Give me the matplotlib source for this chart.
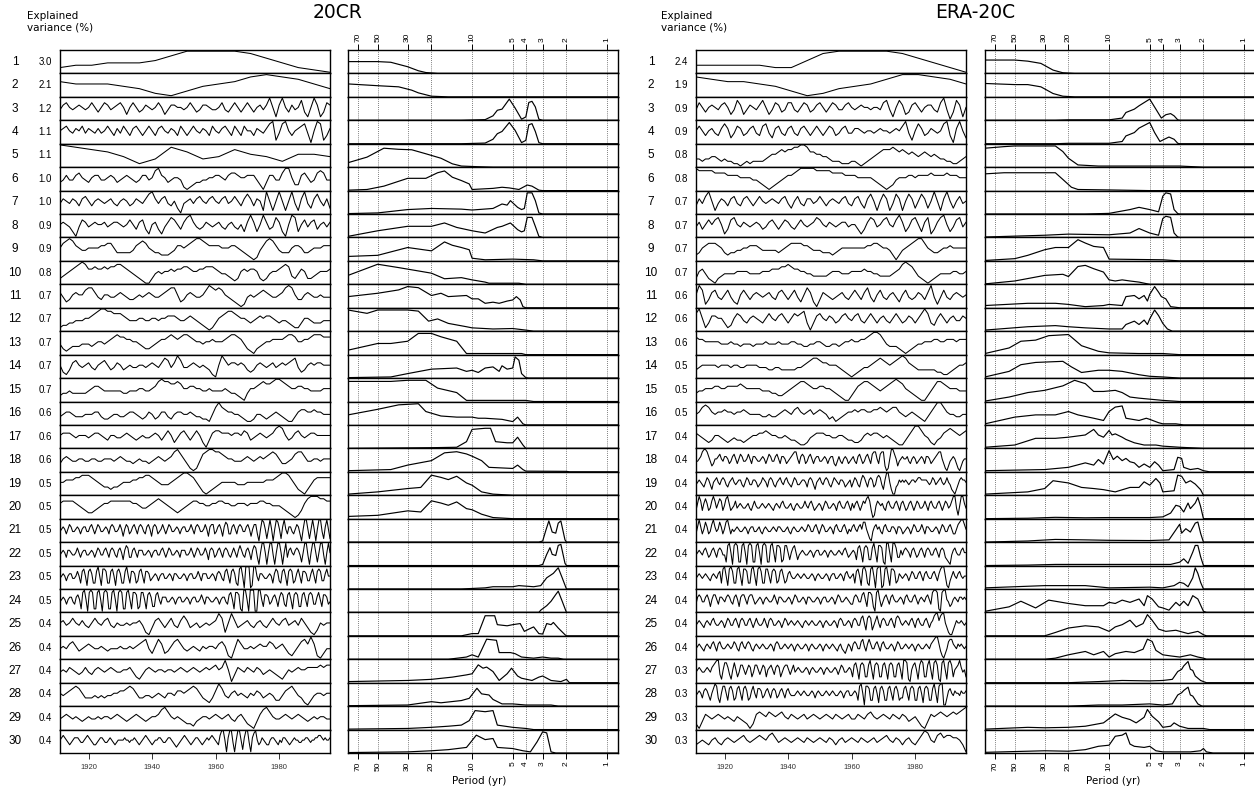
import numpy as np
import matplotlib
matplotlib.use("Agg")
import matplotlib.pyplot as plt
from matplotlib.ticker import NullLocator, FixedLocator

# ---------------- data ----------------
ROW_LABELS = [str(i) for i in range(1, 31)]
VAR_20CR = [3.0, 2.1, 1.2, 1.1, 1.1, 1.0, 1.0, 0.9, 0.9, 0.8, 0.7, 0.7, 0.7, 0.7, 0.7,
            0.6, 0.6, 0.6, 0.5, 0.5, 0.5, 0.5, 0.5, 0.5, 0.4, 0.4, 0.4, 0.4, 0.4, 0.4]
VAR_ERA = [2.4, 1.9, 0.9, 0.9, 0.8, 0.8, 0.7, 0.7, 0.7, 0.7, 0.6, 0.6, 0.6, 0.5, 0.5,
           0.5, 0.4, 0.4, 0.4, 0.4, 0.4, 0.4, 0.4, 0.4, 0.4, 0.4, 0.3, 0.3, 0.3, 0.3]
YEAR_START, YEAR_END = 1911, 1996
YEAR_TICKS = [1920, 1940, 1960, 1980]
PERIOD_TICKS = [70, 50, 30, 20, 10, 5, 4, 3, 2, 1]

# time series (PC) values, digit levels 0..9, evenly spaced over YEAR_START..YEAR_END
TS_20CR = [
    "233444579999864210",
    "655543102456898753",
    "4675456545" "7535764567" "5257534654" "5752466554" "5753466544" "5743575357" "5356469516" "9536458315" "961376",
    "5675465746" "5464575364" "7536753575" "3675465375" "3575465375" "4675375375" "5365468914" "8953567840" "598136",
    "987641386347542554",
    "3464467543" "5664456534" "5654346645" "8965345541" "0123344556" "6546776556" "6642036644" "7995226753" "478744",
    "4654653675" "3565456435" "6534654689" "6467435204" "5646754675" "4674575368" "6365195159" "5159416942" "685362",
    "5654204764" "5655645665" "4575367315" "6314687536" "8964346545" "6435643526" "9625963486" "2059825746" "735646",
    "5789865445" "5556677533" "3334678754" "3322234665" "6789987666" "6555665432" "1014689864" "3335665334" "555666",
    "2345678986" "6766767788" "7654321002" "4545565667" "7655667776" "5443212565" "6652124556" "7873246522" "345556",
    "6423565578" "8643554456" "5433454565" "4456788523" "5654457987" "8754321014" "5456765445" "6898533565" "445444",
    "1223344455" "6789988777" "6544455445" "5455666544" "5654321013" "5678876554" "3456566543" "4432113554" "333444",
    "4212333444" "3455456787" "7665543223" "4566787678" "8765545565" "5567887642" "1023455666" "6788755667" "888777",
    "5213675456" "4356753465" "3454455456" "5468746974" "4565454310" "5975665653" "2356545645" "6567842356" "566555",
    "2334333334" "5665444444" "3344455445" "6898877875" "5665544544" "4454332103" "5567877899" "8765566554" "444555",
    "3455433344" "4553223443" "3455432354" "2355324554" "4543322147" "9765544321" "1244323454" "3211356655" "655444",
    "5666545554" "5665435544" "5654345445" "6535752467" "5357520367" "7666566576" "3456545689" "8534675456" "655555",
    "3565445544" "5544555456" "5443454434" "5654568975" "3101478998" "8765544456" "5456567875" "3345788644" "554555",
    "5566677888" "7654332334" "5556677887" "6544456789" "9875310123" "4555554445" "5555566678" "9986421024" "677777",
    "6777765432" "2345667777" "7776654456" "7876543234" "5677665566" "7766556665" "6667766555" "4321013689" "998877",
    "4565" "35764" "4565" "35664" "4675" "35764" "4565" "36764" "4575" "25763" "4675" "36764" "3675" "26763"
    "4575" "35764" "4565" "35664" "4575" "36764" "4575" "26773" "4675" "26873" "3675" "36764" "4675" "25773"
    "05985" "1595" "05985" "1695" "3664" "35763" "0599" "51595" "0599" "41695" "1",
    "4565" "36654" "4575" "35664" "4565" "35764" "4675" "36764" "3675" "26873" "3675" "36664" "4565" "35664"
    "4675" "35764" "4565" "36664" "4575" "35764" "4575" "26763" "4675" "36764" "3575" "36864" "3675" "26873"
    "0599" "50599" "4059" "95059" "3675" "46764" "1599" "40599" "5159" "94059" "5",
    "4565" "35664" "4575" "2785" "17862" "2795" "18872" "2785" "17862" "2795" "27762" "3785" "27763"
    "4565" "35664" "4565" "36654" "4565" "35664" "4575" "36664" "4565" "36764"
    "3785" "27862" "1895" "09990" "1995" "36654"
    "4565" "26873" "2785" "17872" "3685" "27763" "3685" "27873" "3685" "5",
    "4565" "35664" "3675" "1895" "08981" "1895" "08981" "1895" "08981" "1895" "18871" "2885" "17862" "2785"
    "36664" "4565" "35664" "4565" "35664" "4575" "36654" "4565" "35664"
    "3785" "18871" "0995" "09990" "0995" "27763"
    "4675" "26873" "2785" "17872" "2785" "27873" "3685" "27763" "4",
    "5645754643" "5754674354" "4545564103" "6753574368" "6345345456" "9715963456" "4356435754" "6745647531" "025455",
    "4546753456" "5445434445" "4454567842" "5862357864" "3454354554" "6751048644" "5456557645" "6421357869" "610244",
    "4546543464" "3565456544" "5564213565" "4554554565" "4565456567" "5695036546" "5465345432" "1354565566" "667677",
    "5456787533" "3434344556" "6787533443" "4543554665" "6787532136" "9743564543" "5465345422" "4678643102" "455455",
    "4565454345" "4454554565" "4345654345" "5689754543" "2213455456" "5456435642" "1036897544" "5654565434" "545544",
    "5676543" "4566654" "45676543" "3456654" "456543" "4555565" "5455654" "345676543" "4556654" "45665432"
    "345676" "5434566" "54" "3456567654" "37995" "06994" "05995" "16994" "06895" "3"
    "46543" "3566" "5435" "46654" "3456" "55445" "5665" "4556" "6776" "5" "6556",
]

TS_ERA = [
    "333332258999986420",
    "876654201345799875",
    "4753565467" "5248624654" "6852476347" "7435763467" "5357644675" "4565545547" "8415862367" "5356643794" "038615",
    "5753564368" "6247634674" "3784267436" "7436753575" "3576346744" "6654554565" "5456579415" "8634654589" "306952",
    "3323344323" "2211012122" "2234556767" "7889986655" "4432221112" "2101234567" "7787676565" "4565454332" "211234",
    "9888887777" "6666555544" "3210123456" "6789999988" "8887777666" "6555554321" "0124555665" "6666766667" "666555",
    "3647951465" "3674367535" "7545654674" "2574366457" "5356546743" "6742685158" "6148615862" "5862595169" "525745",
    "4635757851" "3785465456" "5346753576" "4357545687" "5465456645" "5313687457" "8547962478" "5268136895" "247846",
    "2356777653" "2334455666" "5444443456" "7777665444" "3332345555" "5555667765" "5420245678" "9975433455" "655555",
    "2564210234" "4445555444" "4555666778" "7665544333" "3345554445" "5556554433" "3345689875" "3210123444" "455445",
    "5971367435" "7421575356" "5456436753" "5742586203" "6543456435" "7536842574" "3564257434" "6536941474" "356545",
    "7951366553" "1257643565" "4357546753" "5767830367" "5465346754" "6743575356" "4357534653" "5797325753" "564465",
    "7665555544" "4544344434" "4454445444" "5544334455" "4334434556" "5566789986" "4333210123" "4455566556" "665666",
    "3455555455" "5455445555" "4443344333" "3344567887" "6655543210" "1234456787" "6567898654" "3333332211" "234556",
    "3445556655" "6666765555" "5444332234" "5678876556" "6554321002" "4678876545" "6789875432" "1002468876" "555444",
    "4578754556" "5545565444" "4334334565" "4675456456" "5423123455" "6566556676" "5677543454" "3213579975" "443344",
    "6543235543" "2343323455" "6676554454" "3321124566" "6554455433" "2235656654" "5432113579" "9754213467" "876567",
    "4456899864235" "5675" "46653" "4675" "35764" "4575" "36654" "4565" "35764" "4675" "36653" "456"
    "7885" "36763" "4675" "35664" "4565" "35663" "2464" "35653" "4564" "36753" "4675" "3"
    "7885" "37882" "0159" "9752" "456" "5564" "35653" "4565" "36653" "45"
    "6788" "5310" "2456" "5310" "2455",
    "45654" "35764" "25675" "46764" "35675" "45664" "35764" "46653" "45765" "36764" "35675" "46754"
    "35764" "45665" "36764" "25675" "46764" "35765" "46653" "4" "56"
    "35764" "36875" "36763" "47874" "2" "6995" "200" "3" "465"
    "6565" "45665" "6776" "6665" "45764" "5675" "4575" "421" "0246" "7" "665",
    "36973" "6863" "47974" "6873" "58963" "4" "57"
    "45654" "4564" "35754" "4565" "45654" "3565" "46754" "4564" "35654" "4575" "46753" "4565" "35764"
    "4565" "36754" "4675" "36" "46753576" "89730157"
    "6564" "36754" "4675" "36753" "4675" "35764" "4575" "36754" "4675" "35764" "57994159964",
    "36963" "5863" "47964" "5863" "5896" "3" "5"
    "45654" "4565" "35664" "4564" "35654" "4565" "46654" "4564" "35654" "4565" "45764" "4675" "35764"
    "4565" "36754" "4675" "35" "46754675" "88531046"
    "7564" "36754" "4665" "36653" "4565" "35764" "4575" "36654" "4565" "35764" "4675" "3" "35789975",
    "4565" "46753" "4675" "36764" "4"
    "1895" "08981" "1895" "08981" "1895" "08981" "1895" "18871" "2885" "2" "5785" "2"
    "45654" "4565" "35664" "4565" "35654" "4565" "46753" "4" "565"
    "2785" "17872" "2795" "18871" "0995" "19973" "364"
    "6765" "36753" "4675" "36764" "4675" "36763" "2" "10" "46754" "4675" "5",
    "4565" "45654" "3565" "46" "7"
    "2895" "18972" "2895" "18872" "2895" "18972" "2885" "27872" "3785" "2" "36754" "4565"
    "45654" "4565" "35654" "4565" "35664" "4565" "36754" "5" "6"
    "2785" "18972" "1895" "08990" "1895" "18872" "3" "65"
    "4565" "35764" "4675" "36754" "4675" "36899" "5" "10" "3575" "46754" "55",
    "36764" "4675" "25775" "3665" "46764" "3675" "26775" "3" "6775" "3"
    "4565" "35654" "4575" "36654" "4565" "35764" "4565" "36654" "4565" "35664" "4565" "35764" "4" "56543"
    "36764" "4785" "28872" "0895" "2" "4675" "36754" "4565"
    "36754" "4675" "3565" "46753" "8998" "10" "899" "54" "2" "3565" "46" "6565",
    "45654" "3565" "46754" "4565" "35764" "4675" "36764" "4675" "35754" "4575" "36764" "4565" "35" "76"
    "4565" "45654" "3565" "45654" "4565" "35654" "4565" "36" "764" "4565"
    "36764" "4785" "27872" "4685" "36764" "4675" "37875" "4" "565" "4675"
    "36754" "4675" "356" "8996" "8995" "3100" "24655" "6545",
    "45654" "3565" "4675" "36754" "4565" "45764" "3675" "46764" "3565" "45654" "4565" "36764" "45" "65"
    "4565" "35654" "4565" "35654" "4565" "3565" "45654" "3" "5643" "2465"
    "36764" "4785" "36864" "4675" "36754" "4565" "35764" "4" "565" "4565"
    "35654" "4565" "46789" "9631" "0247" "8865" "46" "56545",
    "45654" "4565" "46" "789" "9" "31" "5886" "3" "1585" "24775" "3576" "24775" "3576" "25675" "3676" "2"
    "46775" "357" "45654" "4565" "35654" "4565" "35654" "4565" "35" "7644565"
    "2785" "17872" "2795" "17872" "2785" "17872" "2785" "1"
    "9981" "0" "5785" "17982" "2795" "18971" "0895" "18972" "56" "796452",
    "4565" "36764" "25" "798" "3" "1" "5885" "27862" "3785" "27862" "3685" "37763" "4675" "36763"
    "4675" "36754" "4" "4565" "45654" "4565" "35654" "4565" "45654" "4565" "35" "664" "4565"
    "2895" "08872" "2785" "17862" "2785" "27862" "3"
    "3785" "27872" "2785" "17872" "2795" "18990" "0" "3675" "465" "546556",
    "2036545654" "5435432026" "7657656754" "6545645654" "5654654564" "4654675456" "5465465345" "3103656765" "676789",
    "3454356435" "6545675456" "7657864565" "4565465456" "5465356456" "5465456456" "7546535643" "5798547867" "766530",
]

# spectra: "period:relative power" pairs
SPEC_20CR = [
    "83:.53 50:.53 40:.5 30:.3 25:.12 22:.04 18:0",
    "83:.58 50:.5 35:.45 28:.3 25:.18 20:.03 15:0",
    "83:0 12:0 8:.03 7:.2 6.5:.45 6:.5 5.3:.95 4.8:.55 4.3:.05 4:.15 3.8:.8 3.6:.85 3.4:.6 3.2:.05 3:0",
    "83:0 12:0 8:.03 7:.2 6.5:.45 6:.55 5.3:.95 4.8:.6 4.3:.05 4:.15 3.8:.85 3.6:.9 3.4:.55 3.2:.05 3:0",
    "83:.2 60:.45 45:.85 35:.8 28:.78 22:.6 17:.4 14:.15 12:.05 9:.02 7:0",
    "83:.02 60:.05 45:.2 30:.55 22:.55 18:.8 16:.88 14:.6 12:.45 10.5:.3 10:.05 7:.1 6:.15 5.3:.12 4.5:.05 3.9:.25 3.6:.2 3.2:.02 3:0",
    "83:.02 50:.05 30:.2 20:.25 12:.22 10:.18 7:.25 6:.45 5.5:.4 5.2:.6 4.6:.3 4.3:.2 4.1:.25 3.9:.95 3.6:.95 3.4:.6 3.2:.05 3:0",
    "83:.05 50:.3 30:.5 20:.5 16:.65 13:.45 10:.3 8:.2 6.5:.45 6:.5 5.2:.65 4.6:.35 4.3:.25 4.1:.3 3.9:.9 3.6:.9 3.4:.5 3.2:.05 3:0",
    "83:.2 50:.25 30:.6 20:.45 16:.85 14:.7 12:.6 10.5:.5 10:.12 8:.05 5:.08 3.5:.05 3:0",
    "83:.4 50:.9 35:.75 25:.6 20:.5 16:.25 12:.3 10:.2 8:.1 7.5:.05 4.5:.05 4:0",
    "83:.5 50:.65 35:.8 30:.95 25:.9 20:.55 17:.65 15:.5 11:.55 10:.4 9:.4 8:.2 7:.25 6.3:.2 5.5:.3 5:.35 4.7:.5 4.4:.35 4.2:.05 4:0",
    "83:.95 60:.8 50:.95 30:.95 25:.9 21:.45 18:.55 15:.35 11:.2 10:.15 7:.1 5:.12 4:.05 3.5:0",
    "83:.2 50:.5 40:.5 30:.6 25:.95 20:.95 17:.8 13:.6 11:.05 4.3:.05 4:0",
    "83:.02 40:.05 30:.2 20:.4 13:.45 11:.3 10:.35 9:.25 8:.45 7:.5 6.3:.3 6:.55 5.5:.4 5:.45 4.8:.95 4.5:.8 4.3:.2 4:.02 3.8:0",
    "83:.9 50:.9 40:.9 30:.95 22:.95 18:.6 13:.4 11:.05 4:.05 3.5:0",
    "83:.45 50:.7 35:.9 25:.95 22:.6 17:.4 13:.35 10:.35 9:.3 8:.3 6:.25 5:.15 4.6:.35 4.2:.05 4:0",
    "83:0 30:.02 20:.03 13:.05 11:.3 10:.85 8:.9 7.3:.9 6.7:.3 5.5:.25 5:.25 4.6:.5 4.2:.15 4:0",
    "83:.05 40:.1 30:.3 20:.5 16:.85 13:.9 11:.8 10:.7 8.5:.5 7.5:.2 5:.15 4.6:.3 4.2:.1 4:.03 2:.02 1.9:0",
    "83:.05 50:.15 30:.3 24:.35 20:.9 17:.8 15:.7 13:.85 11:.55 10:.45 8.5:.15 7:.05 5:0",
    "83:.1 50:.15 30:.35 24:.3 20:.8 17:.7 15:.6 13:.75 11:.45 10:.4 8.5:.2 7:.05 5:0",
    "83:0 3.2:0 3:.05 2.85:.5 2.7:.95 2.55:.45 2.4:.4 2.3:.85 2.2:.95 2.05:.1 2:0",
    "83:0 3.2:0 3:.05 2.8:.5 2.65:.8 2.55:.5 2.4:.45 2.3:.9 2.2:.95 2.05:.1 2:0",
    "83:0 12:0 8:.05 7:.1 5:.1 4.5:.15 3.5:.1 3.1:.15 2.8:.5 2.5:.7 2.3:.95 2.15:.5 2:0",
    "83:0 3.2:0 3.1:.1 2.8:.3 2.6:.5 2.4:.8 2.3:.95 2.15:.5 2:0",
    "83:0 12:0 10:.1 9:.1 8:.9 6.8:.9 6.5:.5 5.5:.45 5:.5 4.4:.55 4.1:.2 3.8:.3 3.5:.4 3.2:.1 3:.08 2.8:.55 2.6:.5 2.5:.6 2.3:.35 2.05:.05 2:0",
    "83:0 15:0 11:.1 10:.2 9:.1 8.3:.55 7.8:.9 6.6:.85 6.3:.3 5.2:.3 4.8:.25 4.3:.1 3.5:.05 3:.1 2.6:.05 2.3:.05 2.1:0",
    "83:.05 30:.1 20:.15 14:.25 11:.35 10:.4 9:.8 8.3:.65 7.8:.7 7:.5 6.3:.1 5.5:.4 5.1:.65 4.6:.3 4.3:.2 3.6:.1 3.2:.25 3:.3 2.6:.1 2.2:.05 2:.15 1.9:0",
    "83:.02 30:.05 20:.2 17:.15 12:.25 10.5:.35 9.2:.8 8.5:.55 7.5:.5 7:.3 6:.1 5:.1 4:.05 3:.05 2.6:.05 2.3:0",
    "83:.02 30:.05 20:.1 15:.15 12:.2 10.5:.4 9.5:.85 8:.8 7:.85 6.5:.2 5:.1 4:.05 3.5:0",
    "83:.02 30:.05 20:.1 15:.15 11:.25 10.5:.4 9.3:.8 8:.6 7:.65 6.5:.25 5:.2 4.2:.1 3.7:.05 3.3:.5 3:.95 2.8:.9 2.6:.05 2.4:0",
]

SPEC_ERA = [
    "83:.6 50:.6 40:.55 32:.45 26:.15 22:.03 18:0",
    "83:.6 50:.55 40:.55 32:.45 26:.15 22:.03 18:0",
    "83:0 25:0 20:.02 10:.02 8:.1 7.5:.35 6.5:.5 6:.65 5:.95 4.5:.5 4.1:.1 3.8:.25 3.5:.3 3.3:.2 3.1:.02 3:0",
    "83:0 25:0 20:.02 10:.02 8:.1 7.5:.35 6.5:.5 6:.7 5:.95 4.6:.5 4.2:.1 3.9:.2 3.6:.3 3.3:.2 3.1:.02 3:0",
    "83:.85 60:.92 50:.95 25:.95 22:.7 20:.4 17:.1 12:.05 3:.05 2:0",
    "83:.75 60:.8 50:.8 25:.8 22:.5 19:.15 17:.05 10:.03 5:0",
    "83:0 15:0 10:.03 7:.2 6:.3 5:.2 4.3:.1 4:.8 3.8:.95 3.5:.9 3.3:.2 3.1:.02 3:0",
    "83:.02 30:.1 20:.15 10:.12 7:.2 6:.4 5:.2 4.3:.1 4:.85 3.8:.95 3.5:.9 3.3:.2 3.1:.02 3:0",
    "83:.02 50:.1 40:.25 30:.5 25:.6 20:.6 17:.95 15:.8 13:.65 11:.6 10:.08 4:.05 3:0",
    "83:.02 50:.15 30:.4 22:.45 20:.35 17:.8 15:.85 13:.7 11:.55 10:.2 9:.15 8:.2 7:.15 6:.1 5:0",
    "83:.1 40:.2 25:.2 20:.15 15:.05 11:.1 10:.15 8:.1 7.5:.5 6.5:.55 6:.4 5.5:.55 5.2:.3 5:.6 4.6:.95 4.3:.7 4.1:.5 3.8:.4 3.5:.05 3:0",
    "83:.05 40:.2 25:.25 20:.2 15:.15 10:.1 8:.1 7.5:.3 6.5:.45 6:.3 5.5:.5 5.2:.3 5:.55 4.6:.95 4.3:.7 4:.35 3.7:.1 3.4:0",
    "83:.05 55:.3 45:.6 35:.65 28:.85 20:.9 16:.4 12:.15 10:.08 6:.05 4:.05 3:0",
    "83:.05 55:.3 45:.6 35:.7 22:.75 19:.5 16:.25 12:.35 10:.35 8:.3 6:.15 5:.08 4:.05 3:0",
    "83:.02 55:.2 40:.4 30:.5 22:.7 18:.95 15:.8 13:.45 11:.45 9:.5 8:.4 7:.2 6:.15 4:.05 3:0",
    "83:.05 50:.35 35:.45 25:.45 20:.6 17:.45 13:.3 11:.2 10:.6 9:.8 8:.85 7.5:.3 6:.2 5.3:.3 5:.25 4.3:.1 4:.05 3.2:.05 2.8:0",
    "83:.05 50:.15 35:.45 25:.45 20:.5 15:.6 13:.85 12:.6 11:.5 10:.8 9.5:.6 9:.65 8:.5 7.5:.4 6.5:.25 5.5:.15 4.5:.15 4:.1 3:.05 2:0",
    "83:.05 30:.1 20:.2 15:.4 13:.3 12:.55 11:.35 10:.95 9.3:.55 8.7:.7 8:.5 7.5:.6 7:.45 6.5:.4 6:.2 5.5:.35 5:.2 4.6:.45 4.3:.3 4:.05 3.3:.1 3.1:.65 2.9:.6 2.8:.2 2.5:.1 2.2:.15 2:.05 1.8:0",
    "83:.05 40:.15 30:.3 26:.65 20:.55 16:.35 13:.3 11:.25 9:.15 7:.35 6:.35 5.5:.6 5:.45 4.5:.75 4.2:.55 4:.15 3.3:.2 3.1:.9 2.9:.85 2.7:.55 2.5:.65 2.3:.5 2.1:.25 2:0",
    "83:0 40:.02 25:.06 15:.04 10:.05 5:.05 4:.08 3.5:.25 3.2:.6 3:.55 2.8:.3 2.6:.7 2.5:.45 2.3:.7 2.2:.95 2.1:.55 2:0",
    "83:0 40:.05 25:.12 15:.1 10:.08 5:.07 3.6:.1 3.2:.55 3:.8 2.9:.4 2.7:.6 2.5:.45 2.3:.85 2.2:.9 2.1:.4 2:0",
    "83:0 40:.02 25:.05 10:.05 5:.05 3.5:.05 3:.15 2.8:.3 2.6:.1 2.4:.6 2.3:.9 2.2:.9 2.1:.4 2:0",
    "83:.05 30:.15 15:.15 10:.05 5:.08 4:.05 3.3:.15 3:.3 2.8:.25 2.6:.1 2.4:.5 2.3:.95 2.2:.7 2.1:.3 2:0",
    "83:.05 55:.25 45:.5 35:.2 28:.55 20:.4 15:.3 11:.3 10:.45 9:.4 8:.55 7:.45 6:.6 5.5:.3 5.2:.75 4.8:.6 4.3:.25 4:.2 3.6:.1 3.2:.45 3:.3 2.8:.5 2.6:.3 2.4:.75 2.2:.6 2:.05 1.9:0",
    "83:0 30:0 25:.15 20:.35 15:.45 12:.4 10:.2 9:.4 8:.5 7:.7 6.3:.4 5.6:.55 5.2:.95 4.8:.7 4.3:.3 3.8:.2 3.2:.25 2.6:.1 2.2:.2 2:.05 1.9:0",
    "83:0 30:0 25:.05 20:.2 15:.35 13:.2 11:.35 10:.1 9:.25 7.5:.35 6.5:.3 5.6:.45 5.2:.9 4.8:.8 4.5:.4 4:.2 3.5:.15 3:.1 2.5:.2 2.2:.1 2:.05 1.9:0",
    "83:0 20:0 12:.05 8:.1 5:.08 4:.1 3.4:.15 3.1:.5 2.9:.6 2.8:.75 2.6:.95 2.5:.6 2.4:.55 2.3:.3 2.1:.1 2:.05 1.9:0",
    "83:0 20:0 12:.05 8:.05 5:.1 4:.05 3.4:.1 3.1:.5 2.9:.6 2.8:.7 2.6:.85 2.5:.5 2.4:.45 2.2:.1 2.05:0",
    "83:.02 40:.1 30:.08 20:.1 15:.15 11:.3 9:.7 8:.55 7:.45 6.3:.3 5.5:.55 5.2:.9 4.8:.6 4.3:.35 4:.1 3.5:.15 3.3:.3 3:.15 2.6:.05 2:.05 1.8:0",
    "83:.03 40:.08 30:.1 20:.08 15:.15 12:.3 10:.35 9:.75 8:.8 7.5:.9 7:.4 6.5:.3 5.5:.25 5:.3 4.5:.1 4:.05 2.5:.05 2.1:.1 2:.2 1.9:.05 1.7:0",
]

# ---------------- layout ----------------
W, H = 1254, 792
fig = plt.figure(figsize=(W / 100, H / 100), dpi=100)
ROW_TOP = 50.0
ROW_H = 703.0 / 30
P_LEFT, P_RIGHT = 83.0, 0.83

TICKFONT = ["Liberation Sans", "DejaVu Sans"]
TEXTFONT = ["DejaVu Sans"]


def rect(x0, w, k):
    top = ROW_TOP + k * ROW_H
    return [x0 / W, 1 - (top + ROW_H) / H, w / W, ROW_H / H]


def parse_spec(s):
    pts = [tuple(float(v) for v in t.split(":")) for t in s.split()]
    if pts[-1][0] > P_RIGHT:
        pts.append((P_RIGHT, pts[-1][1]))
    P = np.array([p for p, _ in pts])
    v = np.array([q for _, q in pts])
    return P, v


def style_spines(ax):
    for sp in ax.spines.values():
        sp.set_linewidth(1.0)
        sp.set_color("black")


def draw_block(ts_list, spec_list, var_list, ts_x0, spec_x0, lab_x, var_x,
               expl_x, title, title_x, period_x):
    n = len(ts_list)
    for k in range(n):
        # --- time series
        ax = fig.add_axes(rect(ts_x0, 270, k))
        vals = np.array([float(c) for c in ts_list[k]])
        years = np.linspace(YEAR_START, YEAR_END, len(vals))
        ax.plot(years, vals, color="black", lw=0.75)
        ax.set_xlim(YEAR_START, YEAR_END)
        ax.set_ylim(-0.5, 9.5)
        ax.set_yticks([])
        style_spines(ax)
        if k == n - 1:
            ax.set_xticks(YEAR_TICKS)
            ax.set_xticklabels([str(y) for y in YEAR_TICKS], fontsize=5.5,
                               family=TICKFONT, color="#333333")
            ax.tick_params(axis="x", length=4, width=0.7, pad=4, colors="#333333")
        else:
            ax.set_xticks([])

        # --- spectrum
        sx = fig.add_axes(rect(spec_x0, 270, k))
        sx.set_xscale("log")
        sx.set_xlim(P_LEFT, P_RIGHT)
        sx.set_ylim(0, 1.05)
        for P in PERIOD_TICKS:
            sx.axvline(P, color="#555555", lw=0.6, ls=(0, (1, 1.5)), zorder=0)
        Ps, vs = parse_spec(spec_list[k])
        sx.plot(Ps, vs, color="black", lw=0.85, clip_on=True)
        sx.set_yticks([])
        sx.xaxis.set_minor_locator(NullLocator())
        style_spines(sx)
        if k == 0 or k == n - 1:
            sx.xaxis.set_major_locator(FixedLocator(PERIOD_TICKS))
            sx.set_xticklabels([str(p) for p in PERIOD_TICKS], rotation=90,
                               fontsize=6, family=TICKFONT)
            if k == 0:
                sx.xaxis.tick_top()
                sx.tick_params(axis="x", top=True, bottom=False, labeltop=True,
                               labelbottom=False, length=4, width=0.7, pad=2)
            else:
                sx.tick_params(axis="x", length=4, width=0.7, pad=2)
        else:
            sx.set_xticks([])

        # --- row labels
        yc = 1 - (ROW_TOP + (k + 0.5) * ROW_H) / H
        fig.text(lab_x / W, yc, ROW_LABELS[k], ha="center", va="center",
                 fontsize=8.5, family=TICKFONT)
        fig.text(var_x / W, yc, f"{var_list[k]:.1f}", ha="center", va="center",
                 fontsize=7, family=TICKFONT)

    fig.text(expl_x / W, 1 - 11 / H, "Explained\nvariance (%)", ha="left", va="top",
             fontsize=7.5, family=TEXTFONT, linespacing=1.2)
    fig.text(title_x / W, 1 - 12 / H, title, ha="center", va="center",
             fontsize=13.5, family=TEXTFONT)
    fig.text(period_x / W, 1 - 781 / H, "Period (yr)", ha="center", va="center",
             fontsize=7.5, family=TEXTFONT)


draw_block(TS_20CR, SPEC_20CR, VAR_20CR, 60, 348, 15, 45, 27, "20CR", 338, 479)
draw_block(TS_ERA, SPEC_ERA, VAR_ERA, 696, 985, 651, 681, 661, "ERA-20C", 975, 1113)

fig.savefig("out.png", dpi=100)
